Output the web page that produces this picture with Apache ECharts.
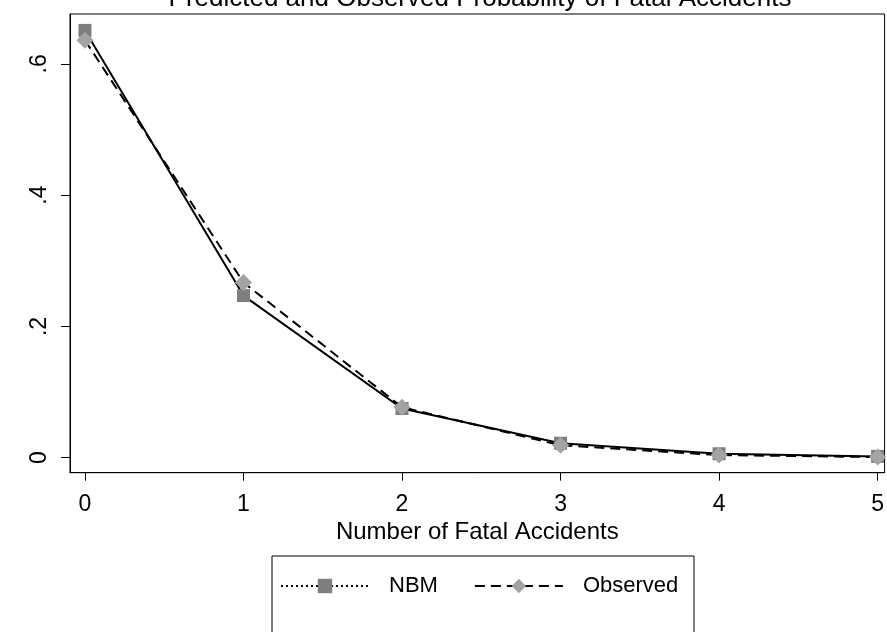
<!DOCTYPE html>
<html>
<head>
<meta charset="utf-8">
<script src="https://cdn.jsdelivr.net/npm/echarts@6/dist/echarts.min.js"></script>
<style>
html,body{margin:0;padding:0;background:#fff;}
#c{width:887px;height:632px;}
</style>
</head>
<body>
<div id="c"></div>
<script>
const categories = [0, 1, 2, 3, 4, 5];
const nbm = [0.651, 0.247, 0.075, 0.022, 0.006, 0.002];
const observed = [0.636, 0.267, 0.077, 0.019, 0.004, 0.001];
const yTickValues = [0, 0.2, 0.4, 0.6];
const yTickLabels = ['0', '.2', '.4', '.6'];
const xTickValues = [0, 1, 2, 3, 4, 5];
const titleText = 'Predicted and Observed Probability of Fatal Accidents';
const xTitle = 'Number of Fatal Accidents';

const FONT = 'Liberation Sans, Arial, sans-serif';
const chart = echarts.init(document.getElementById('c'), null, {renderer: 'canvas'});

chart.setOption({
  animation: false,
  backgroundColor: '#fff',
  title: {
    text: titleText,
    left: 480, top: -14, textAlign: 'center', padding: 0,
    textStyle: {fontFamily: FONT, fontSize: 26, fontWeight: 'normal', color: '#000'}
  },
  grid: {left: 70, top: 14, right: -2, bottom: 632 - 472.7, show: true, borderColor: '#000', borderWidth: 1, backgroundColor: '#fff'},
  xAxis: {
    type: 'value', min: -15 / 159, max: 5 + 7 / 159,
    splitLine: {show: false},
    axisLine: {show: true, onZero: false, lineStyle: {color: '#000', width: 1}},
    axisTick: {show: true, length: 8, lineStyle: {color: '#000'}, customValues: xTickValues},
    axisLabel: {customValues: xTickValues, margin: 20, fontFamily: FONT, fontSize: 23, color: '#000',
      formatter: v => String(v)},
    name: xTitle, nameLocation: 'middle', nameGap: 46,
    nameTextStyle: {fontFamily: FONT, fontSize: 24, color: '#000'}
  },
  yAxis: {
    type: 'value', min: -15 / 656.5, max: 0.676,
    splitLine: {show: false},
    axisLine: {show: true, onZero: false, lineStyle: {color: '#000', width: 1}},
    axisTick: {show: true, length: 9, lineStyle: {color: '#000'}, customValues: yTickValues},
    axisLabel: {customValues: yTickValues, rotate: 90, margin: 19, fontFamily: FONT, fontSize: 23, color: '#000',
      formatter: v => yTickLabels[yTickValues.findIndex(t => Math.abs(t - v) < 1e-6)]}
  },
  legend: {
    left: 275, top: 570, orient: 'horizontal', itemWidth: 88, itemHeight: 18, itemGap: 36,
    textStyle: {fontFamily: FONT, fontSize: 22, color: '#000', padding: [0, 0, 0, 15]},
    data: [
      {name: 'NBM', lineStyle: {type: [2, 3], width: 2, color: '#000'}},
      {name: 'Observed', lineStyle: {type: [10, 6], width: 2, color: '#000'}}
    ]
  },
  graphic: [{
    type: 'rect', shape: {x: 272, y: 556, width: 422, height: 100},
    style: {fill: 'none', stroke: '#000', lineWidth: 1}, z: -1, silent: true
  }],
  series: [
    {
      name: 'NBM', type: 'line',
      data: categories.map((c, i) => [c, nbm[i]]),
      symbol: 'rect', symbolSize: 13,
      itemStyle: {color: '#7f7f7f'},
      lineStyle: {color: '#000', width: 2, type: 'solid'},
      z: 2
    },
    {
      name: 'Observed', type: 'line',
      data: categories.map((c, i) => [c, observed[i]]),
      symbol: 'diamond', symbolSize: 17,
      itemStyle: {color: '#a3a3a3'},
      lineStyle: {color: '#000', width: 2, type: [10, 6]},
      z: 3
    }
  ]
});
</script>
</body>
</html>
